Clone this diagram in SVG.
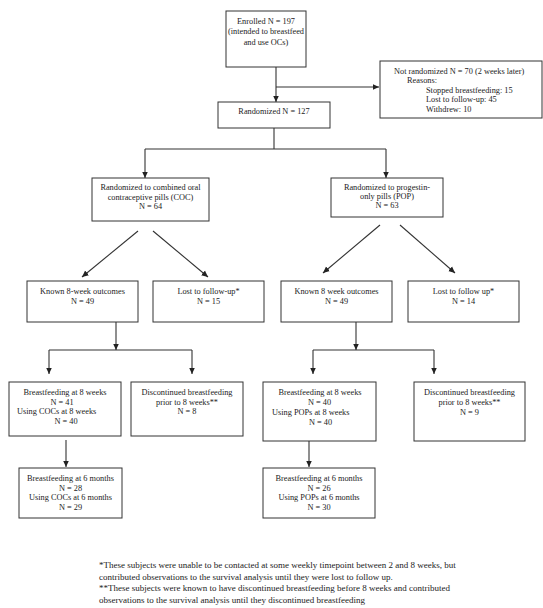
<svg xmlns="http://www.w3.org/2000/svg" width="543" height="608" viewBox="0 0 543 608">
<style>
rect.b{fill:#fff;stroke:#333;stroke-width:1}
text{font-family:"Liberation Serif","Times New Roman",serif;font-size:8.3px;fill:#222}
text.c{text-anchor:middle}
text.f{font-size:9px}
#connectors line{stroke:#333;stroke-width:1.1;fill:none}
</style>
<defs>
<marker id="ah" markerUnits="userSpaceOnUse" markerWidth="7" markerHeight="7" refX="6.5" refY="3.5" orient="auto">
<path d="M0,0.5 L6.5,3.5 L0,6.5 z" fill="#222"/>
</marker>
</defs>
<rect width="543" height="608" fill="#fff"/>
<g id="connectors">
<line x1="276" y1="67" x2="276" y2="102" marker-end="url(#ah)"/>
<line x1="276" y1="87" x2="379" y2="87" marker-end="url(#ah)"/>
<line x1="274" y1="128" x2="274" y2="149"/>
<line x1="145" y1="149" x2="386" y2="149"/>
<line x1="145" y1="149" x2="145" y2="178" marker-end="url(#ah)"/>
<line x1="386" y1="149" x2="386" y2="178" marker-end="url(#ah)"/>
<line x1="138" y1="231" x2="82" y2="277" marker-end="url(#ah)"/>
<line x1="153" y1="231" x2="208" y2="277" marker-end="url(#ah)"/>
<line x1="380" y1="225" x2="323" y2="273" marker-end="url(#ah)"/>
<line x1="400" y1="225" x2="455" y2="273" marker-end="url(#ah)"/>
<line x1="116" y1="322" x2="116" y2="350" marker-end="url(#ah)"/>
<line x1="49" y1="350" x2="192" y2="350"/>
<line x1="49" y1="350" x2="49" y2="374" marker-end="url(#ah)"/>
<line x1="192" y1="350" x2="192" y2="374" marker-end="url(#ah)"/>
<line x1="356" y1="322" x2="356" y2="350" marker-end="url(#ah)"/>
<line x1="313" y1="350" x2="434" y2="350"/>
<line x1="313" y1="350" x2="313" y2="374" marker-end="url(#ah)"/>
<line x1="434" y1="350" x2="434" y2="374" marker-end="url(#ah)"/>
<line x1="66" y1="440" x2="66" y2="467" marker-end="url(#ah)"/>
<line x1="309" y1="441" x2="309" y2="467" marker-end="url(#ah)"/>
</g>
<g id="enrolled">
<rect class="b" x="226" y="11" width="80" height="56"/>
<text class="c" x="266" y="23.5">Enrolled N = 197</text>
<text class="c" x="266" y="34">(intended to breastfeed</text>
<text class="c" x="266" y="44.5">and use OCs)</text>
</g>
<g id="not-randomized">
<rect class="b" x="380" y="61" width="162" height="57"/>
<text x="394" y="73.5">Not randomized N = 70 (2 weeks later)</text>
<text x="407" y="83">Reasons:</text>
<text x="426" y="92.5">Stopped breastfeeding:  15</text>
<text x="426" y="102">Lost to follow-up:  45</text>
<text x="426" y="111.5">Withdrew:  10</text>
</g>
<g id="randomized">
<rect class="b" x="218" y="102" width="112" height="26"/>
<text class="c" x="274" y="114">Randomized N = 127</text>
</g>
<g id="coc">
<rect class="b" x="92" y="178" width="117" height="43"/>
<text class="c" x="150.5" y="190">Randomized to combined oral</text>
<text class="c" x="150.5" y="199.5">contraceptive pills (COC)</text>
<text class="c" x="150.5" y="209">N = 64</text>
</g>
<g id="pop">
<rect class="b" x="331" y="178" width="112" height="39"/>
<text class="c" x="387" y="190">Randomized to progestin-</text>
<text class="c" x="387" y="199">only pills (POP)</text>
<text class="c" x="387" y="208">N = 63</text>
</g>
<g id="coc-known">
<rect class="b" x="27" y="281" width="111" height="41"/>
<text class="c" x="82.5" y="294">Known 8-week outcomes</text>
<text class="c" x="82.5" y="303.5">N = 49</text>
</g>
<g id="coc-lost">
<rect class="b" x="153" y="281" width="111" height="41"/>
<text class="c" x="208.5" y="294">Lost to follow-up*</text>
<text class="c" x="208.5" y="303.5">N = 15</text>
</g>
<g id="pop-known">
<rect class="b" x="281" y="281" width="111" height="41"/>
<text class="c" x="336.5" y="294">Known 8 week outcomes</text>
<text class="c" x="336.5" y="303.5">N = 49</text>
</g>
<g id="pop-lost">
<rect class="b" x="408" y="281" width="111" height="41"/>
<text class="c" x="463.5" y="294">Lost to follow up*</text>
<text class="c" x="463.5" y="303.5">N = 14</text>
</g>
<g id="coc-bf8">
<rect class="b" x="9" y="382" width="112" height="54"/>
<text class="c" x="65" y="395">Breastfeeding at 8 weeks</text>
<text class="c" x="62" y="404.5">N = 41</text>
<text x="17" y="414">Using COCs at 8 weeks</text>
<text class="c" x="66" y="423.5">N = 40</text>
</g>
<g id="coc-disc">
<rect class="b" x="131" y="382" width="112" height="54"/>
<text class="c" x="187" y="395">Discontinued breastfeeding</text>
<text class="c" x="187" y="404.5">prior to 8 weeks**</text>
<text class="c" x="187" y="414">N = 8</text>
</g>
<g id="pop-bf8">
<rect class="b" x="263" y="382" width="113" height="59"/>
<text class="c" x="320" y="395">Breastfeeding at 8 weeks</text>
<text class="c" x="319.5" y="405">N = 40</text>
<text x="272" y="415">Using POPs at 8 weeks</text>
<text class="c" x="320.5" y="424.5">N = 40</text>
</g>
<g id="pop-disc">
<rect class="b" x="414" y="382" width="111" height="59"/>
<text class="c" x="469.5" y="395">Discontinued breastfeeding</text>
<text class="c" x="469.5" y="405">prior to 8 weeks**</text>
<text class="c" x="469.5" y="414.5">N = 9</text>
</g>
<g id="coc-6m">
<rect class="b" x="19" y="468" width="103" height="50"/>
<text class="c" x="70.5" y="481">Breastfeeding at 6 months</text>
<text class="c" x="70.5" y="490.5">N = 28</text>
<text class="c" x="70.5" y="500">Using COCs at 6 months</text>
<text class="c" x="70.5" y="509.5">N = 29</text>
</g>
<g id="pop-6m">
<rect class="b" x="263" y="468" width="112" height="50"/>
<text class="c" x="319" y="481">Breastfeeding at 6 months</text>
<text class="c" x="319" y="490.5">N = 26</text>
<text class="c" x="319" y="500">Using POPs at 6 months</text>
<text class="c" x="319" y="509.5">N = 30</text>
</g>
<g id="footnote">
<text class="f" x="99" y="568">*These subjects were unable to be contacted at some weekly timepoint between 2 and 8 weeks, but</text>
<text class="f" x="99" y="579.5">contributed observations to the survival analysis until they were lost to follow up.</text>
<text class="f" x="99" y="591">**These subjects were known to have discontinued breastfeeding before 8 weeks and contributed</text>
<text class="f" x="99" y="602.5">observations to the survival analysis until they discontinued breastfeeding</text>
</g>
</svg>
